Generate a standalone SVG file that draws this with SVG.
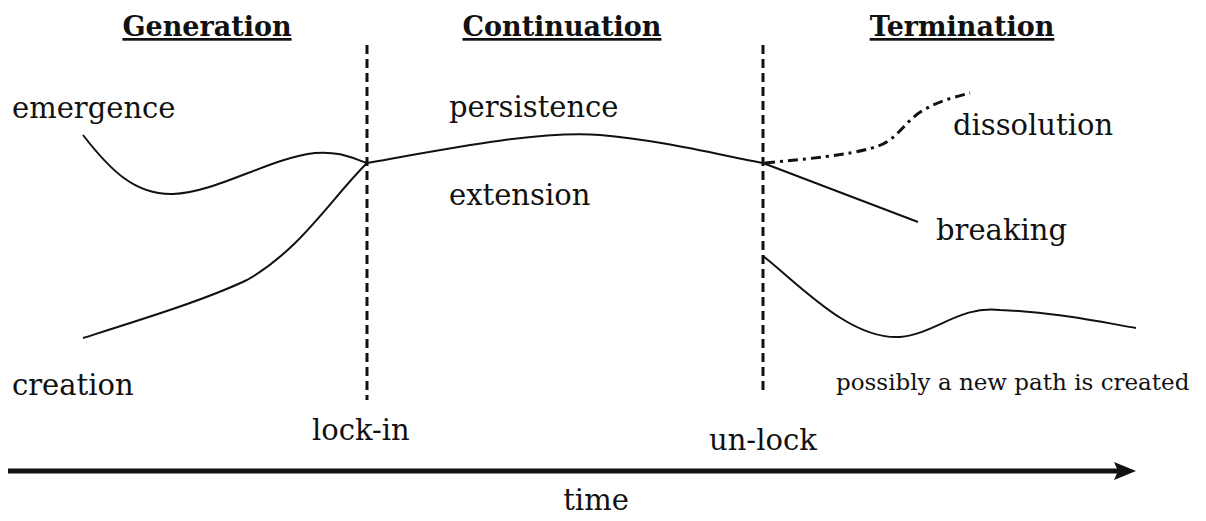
<svg xmlns="http://www.w3.org/2000/svg" width="1206" height="521" viewBox="0 0 1206 521">
<defs>
<style>
text{font-family:"DejaVu Serif","Liberation Serif",serif;fill:#111;font-size:29px}
.h{font-weight:bold;font-size:27px;text-decoration:underline}
.s{font-size:23px}
.c{fill:none;stroke:#111;stroke-width:2}
.d{fill:none;stroke:#111;stroke-width:3;stroke-dasharray:9 5}
</style>
<marker id="ah" markerWidth="22" markerHeight="18" refX="4" refY="9" orient="auto" markerUnits="userSpaceOnUse" viewBox="0 0 22 18">
<path d="M0,0 L22,9 L0,18 L4,9 Z" fill="#111"/>
</marker>
</defs>
<rect width="1206" height="521" fill="#fff"/>
<g id="headings">
<text class="h" x="207" y="36" text-anchor="middle">Generation</text>
<text class="h" x="562" y="36" text-anchor="middle">Continuation</text>
<text class="h" x="962" y="36" text-anchor="middle">Termination</text>
</g>
<g id="labels">
<text x="12" y="118">emergence</text>
<text x="449" y="117">persistence</text>
<text x="953" y="135">dissolution</text>
<text x="449" y="205">extension</text>
<text x="936" y="240">breaking</text>
<text x="12" y="395">creation</text>
<text x="312" y="440" font-size="31">lock-in</text>
<text x="709" y="450" font-size="31">un-lock</text>
<text class="s" x="836" y="390">possibly a new path is created</text>
<text x="596" y="510" text-anchor="middle" font-size="28">time</text>
</g>
<g id="connectors">
<line class="d" x1="367" y1="45" x2="367" y2="400"/>
<line class="d" x1="763" y1="45" x2="763" y2="395"/>
<path class="c" d="M83,135 C110,170 135,195 173,194 C215,193 270,158 315,153 C340,151 352,158 367,163"/>
<path class="c" d="M83,338 C140,320 205,300 247,280 C300,250 330,200 367,163"/>
<path class="c" d="M367,163 C440,150 540,130 600,135 C660,140 720,155 763,163"/>
<path class="c" d="M763,163 L918,222"/>
<path fill="none" stroke="#111" stroke-width="3" stroke-dasharray="10 5 3 5" d="M765,163 C830,157 858,153 878,146 C898,139 904,122 922,111 C938,101 955,97 970,93"/>
<path class="c" d="M763,256 C800,285 850,340 900,337 C935,334 960,305 1000,310 C1050,312 1090,320 1136,328"/>
<line x1="8" y1="471" x2="1118" y2="471" stroke="#111" stroke-width="5" marker-end="url(#ah)"/>
</g>
</svg>
